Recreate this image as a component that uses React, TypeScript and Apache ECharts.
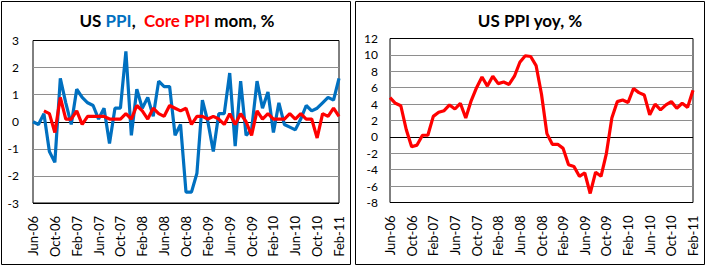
import React, { useEffect, useRef } from "react";
import * as echarts from "echarts";

const months = [
  "Jun-06", "Jul-06", "Aug-06", "Sep-06", "Oct-06", "Nov-06", "Dec-06",
  "Jan-07", "Feb-07", "Mar-07", "Apr-07", "May-07", "Jun-07", "Jul-07", "Aug-07", "Sep-07", "Oct-07", "Nov-07", "Dec-07",
  "Jan-08", "Feb-08", "Mar-08", "Apr-08", "May-08", "Jun-08", "Jul-08", "Aug-08", "Sep-08", "Oct-08", "Nov-08", "Dec-08",
  "Jan-09", "Feb-09", "Mar-09", "Apr-09", "May-09", "Jun-09", "Jul-09", "Aug-09", "Sep-09", "Oct-09", "Nov-09", "Dec-09",
  "Jan-10", "Feb-10", "Mar-10", "Apr-10", "May-10", "Jun-10", "Jul-10", "Aug-10", "Sep-10", "Oct-10", "Nov-10", "Dec-10",
  "Jan-11", "Feb-11",
];

const ppiMom = [
  0.0, -0.1, 0.3, -1.1, -1.5, 1.6, 0.7,
  -0.1, 1.2, 0.9, 0.7, 0.6, 0.1, 0.5, -0.8, 0.5, 0.5, 2.6, -0.5,
  1.2, 0.5, 0.9, 0.2, 1.5, 1.3, 1.3, -0.5, -0.1, -2.6, -2.6, -1.9,
  0.8, 0.0, -1.1, 0.3, 0.3, 1.8, -0.9, 1.5, -0.5, -0.3, 1.5, 0.5,
  1.1, -0.4, 0.7, -0.1, -0.2, -0.3, 0.1, 0.6, 0.4, 0.5, 0.7, 0.9,
  0.8, 1.6,
];

const corePpiMom = [
  null, null, 0.4, 0.3, -0.4, 0.9, 0.1,
  0.1, 0.4, -0.1, 0.2, 0.2, 0.2, 0.2, 0.1, 0.1, 0.1, 0.3, 0.1,
  0.6, 0.4, 0.1, 0.5, 0.3, 0.2, 0.6, 0.5, 0.4, 0.5, -0.1, 0.2,
  0.2, 0.1, 0.2, 0.1, -0.1, 0.3, -0.1, 0.3, 0.0, -0.5, 0.4, 0.1,
  0.3, 0.1, 0.1, 0.1, 0.3, 0.1, 0.3, 0.1, 0.1, -0.6, 0.3, 0.2,
  0.5, 0.2,
];

const ppiYoy = [
  4.8, 4.1, 3.8, 0.9, -1.2, -1.0, 0.2,
  0.2, 2.5, 3.0, 3.2, 3.9, 3.4, 4.1, 2.3, 4.4, 6.0, 7.3, 6.2,
  7.4, 6.5, 6.7, 6.4, 7.4, 9.1, 9.9, 9.8, 8.7, 5.2, 0.4, -0.9,
  -0.9, -1.4, -3.4, -3.6, -4.8, -4.4, -6.9, -4.3, -4.8, -2.0, 2.3, 4.3,
  4.5, 4.2, 5.9, 5.4, 5.1, 2.7, 4.0, 3.3, 3.9, 4.3, 3.5, 4.1,
  3.6, 5.7,
];

const BLUE = "#0070C0";
const RED = "#FF0000";
const FONT = "Lato";
const GRAY = "#8e8e8e";

export default function App() {
  const ref = useRef<HTMLDivElement>(null);

  useEffect(() => {
    if (!ref.current) return;
    const chart = echarts.init(ref.current, undefined, { renderer: "svg" });

    const xAxisBase = (gridIndex: number) => ({
      type: "category",
      gridIndex,
      data: months,
      boundaryGap: false,
      axisLine: { show: false },
      axisTick: { show: false },
      splitLine: { show: false },
      axisLabel: {
        interval: 3,
        rotate: 90,
        fontFamily: FONT,
        fontSize: 13,
        color: "#000",
        margin: 13,
      },
    });

    const option: any = {
      animation: false,
      backgroundColor: "#fff",
      grid: [
        { left: 33, top: 40.5, width: 306, height: 162.5, show: true, borderColor: "#000", borderWidth: 1, backgroundColor: "transparent", containLabel: false },
        { left: 390, top: 38.5, width: 303, height: 164, show: true, borderColor: "#000", borderWidth: 1, backgroundColor: "transparent", containLabel: false },
      ],
      xAxis: [xAxisBase(0), xAxisBase(1)],
      yAxis: [
        {
          type: "value",
          gridIndex: 0,
          min: -3,
          max: 3,
          interval: 1,
          axisLine: { show: false },
          axisTick: { show: false },
          axisLabel: { fontFamily: FONT, fontSize: 12, color: "#000", margin: 14 },
          splitLine: { show: true, lineStyle: { color: ["#000", GRAY, GRAY, "#000", GRAY, GRAY, "#000"], width: 1 } },
        },
        {
          type: "value",
          gridIndex: 1,
          min: -8,
          max: 12,
          interval: 2,
          axisLine: { show: false },
          axisTick: { show: false },
          axisLabel: { fontFamily: FONT, fontSize: 12, color: "#000", margin: 12 },
          splitLine: {
            show: true,
            lineStyle: { color: ["#000", GRAY, GRAY, GRAY, "#000", GRAY, GRAY, GRAY, GRAY, GRAY, "#000"], width: 1 },
          },
        },
      ],
      series: [
        {
          name: "PPI mom",
          type: "line",
          xAxisIndex: 0,
          yAxisIndex: 0,
          data: ppiMom,
          symbol: "none",
          lineStyle: { color: BLUE, width: 3.2 },
          z: 2,
        },
        {
          name: "Core PPI mom",
          type: "line",
          xAxisIndex: 0,
          yAxisIndex: 0,
          data: corePpiMom,
          symbol: "none",
          lineStyle: { color: RED, width: 3.2 },
          z: 3,
        },
        {
          name: "PPI yoy",
          type: "line",
          xAxisIndex: 1,
          yAxisIndex: 1,
          data: ppiYoy,
          symbol: "none",
          lineStyle: { color: RED, width: 3.2 },
          z: 3,
        },
      ],
      graphic: [
        {
          type: "rect",
          shape: { x: 1.5, y: 1.5, width: 349, height: 263 },
          style: { fill: "none", stroke: "#000", lineWidth: 1 },
          silent: true,
        },
        {
          type: "rect",
          shape: { x: 355.5, y: 1.5, width: 349, height: 263 },
          style: { fill: "none", stroke: "#000", lineWidth: 1 },
          silent: true,
        },
        {
          type: "text",
          x: 177,
          y: 20,
          style: {
            text: "{a|US }{b|PPI}{a|,  }{c|Core PPI}{a| mom, %}",
            align: "center",
            verticalAlign: "middle",
            rich: {
              a: { fontFamily: FONT, fontWeight: "bold", fontSize: 17, fill: "#000" },
              b: { fontFamily: FONT, fontWeight: "bold", fontSize: 17, fill: BLUE },
              c: { fontFamily: FONT, fontWeight: "bold", fontSize: 17, fill: RED },
            },
          },
        },
        {
          type: "text",
          x: 530,
          y: 20,
          style: {
            text: "US PPI yoy, %",
            align: "center",
            verticalAlign: "middle",
            fontFamily: FONT,
            fontWeight: "bold",
            fontSize: 17,
            fill: "#000",
          },
        },
      ],
    };

    chart.setOption(option);
    return () => chart.dispose();
  }, []);

  return (
    <div
      ref={ref}
      style={{ position: "fixed", left: 0, top: 0, width: 708, height: 267, background: "#fff" }}
    />
  );
}
